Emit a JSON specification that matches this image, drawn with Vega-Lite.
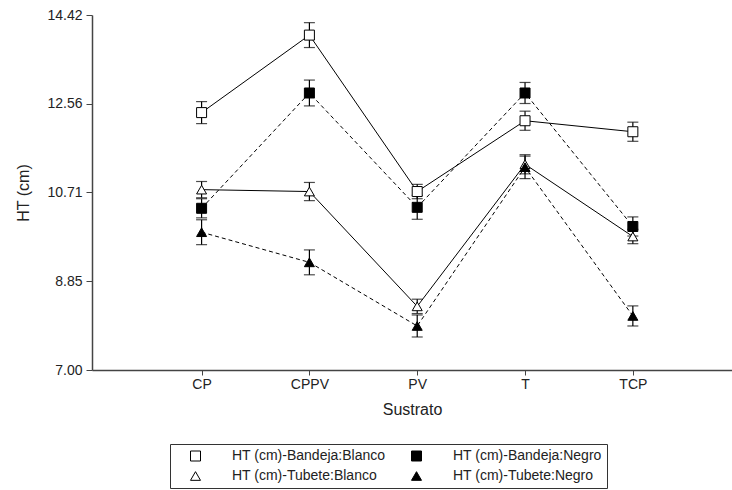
{
  "$schema": "https://vega.github.io/schema/vega-lite/v6.json",
  "width": 640,
  "height": 355,
  "autosize": {"type": "none"},
  "padding": {"left": 92, "top": 15, "right": 0, "bottom": 120},
  "background": "white",
  "data": {
    "values": [
      {"sustrato": "CP", "serie": "HT (cm)-Bandeja:Blanco", "color": "Blanco", "ht": 12.38, "lo": 12.15, "hi": 12.61},
      {"sustrato": "CPPV", "serie": "HT (cm)-Bandeja:Blanco", "color": "Blanco", "ht": 14.0, "lo": 13.74, "hi": 14.26},
      {"sustrato": "PV", "serie": "HT (cm)-Bandeja:Blanco", "color": "Blanco", "ht": 10.73, "lo": 10.58, "hi": 10.88},
      {"sustrato": "T", "serie": "HT (cm)-Bandeja:Blanco", "color": "Blanco", "ht": 12.21, "lo": 12.01, "hi": 12.41},
      {"sustrato": "TCP", "serie": "HT (cm)-Bandeja:Blanco", "color": "Blanco", "ht": 11.98, "lo": 11.78, "hi": 12.18},
      {"sustrato": "CP", "serie": "HT (cm)-Bandeja:Negro", "color": "Negro", "ht": 10.38, "lo": 10.18, "hi": 10.58},
      {"sustrato": "CPPV", "serie": "HT (cm)-Bandeja:Negro", "color": "Negro", "ht": 12.79, "lo": 12.52, "hi": 13.06},
      {"sustrato": "PV", "serie": "HT (cm)-Bandeja:Negro", "color": "Negro", "ht": 10.4, "lo": 10.15, "hi": 10.65},
      {"sustrato": "T", "serie": "HT (cm)-Bandeja:Negro", "color": "Negro", "ht": 12.79, "lo": 12.57, "hi": 13.01},
      {"sustrato": "TCP", "serie": "HT (cm)-Bandeja:Negro", "color": "Negro", "ht": 10.0, "lo": 9.8, "hi": 10.2},
      {"sustrato": "CP", "serie": "HT (cm)-Tubete:Blanco", "color": "Blanco", "ht": 10.77, "lo": 10.6, "hi": 10.94},
      {"sustrato": "CPPV", "serie": "HT (cm)-Tubete:Blanco", "color": "Blanco", "ht": 10.73, "lo": 10.54, "hi": 10.92},
      {"sustrato": "PV", "serie": "HT (cm)-Tubete:Blanco", "color": "Blanco", "ht": 8.33, "lo": 8.18, "hi": 8.48},
      {"sustrato": "T", "serie": "HT (cm)-Tubete:Blanco", "color": "Blanco", "ht": 11.3, "lo": 11.1, "hi": 11.5},
      {"sustrato": "TCP", "serie": "HT (cm)-Tubete:Blanco", "color": "Blanco", "ht": 9.79, "lo": 9.64, "hi": 9.94},
      {"sustrato": "CP", "serie": "HT (cm)-Tubete:Negro", "color": "Negro", "ht": 9.88, "lo": 9.62, "hi": 10.14},
      {"sustrato": "CPPV", "serie": "HT (cm)-Tubete:Negro", "color": "Negro", "ht": 9.25, "lo": 8.99, "hi": 9.51},
      {"sustrato": "PV", "serie": "HT (cm)-Tubete:Negro", "color": "Negro", "ht": 7.92, "lo": 7.69, "hi": 8.15},
      {"sustrato": "T", "serie": "HT (cm)-Tubete:Negro", "color": "Negro", "ht": 11.24, "lo": 11.0, "hi": 11.47},
      {"sustrato": "TCP", "serie": "HT (cm)-Tubete:Negro", "color": "Negro", "ht": 8.13, "lo": 7.92, "hi": 8.34}
    ]
  },
  "encoding": {
    "x": {
      "field": "sustrato",
      "type": "nominal",
      "sort": ["CP", "CPPV", "PV", "T", "TCP"],
      "scale": {"type": "point", "padding": 0.968, "align": 0.525},
      "axis": {"title": "Sustrato", "labelAngle": 0, "titlePadding": 10}
    }
  },
  "layer": [
    {
      "transform": [{"filter": "datum.color === 'Blanco'"}],
      "mark": {"type": "line", "color": "black", "strokeWidth": 1},
      "encoding": {
        "y": {
          "field": "ht",
          "type": "quantitative",
          "scale": {"domain": [7, 14.42], "nice": false, "zero": false},
          "axis": {"title": "HT (cm)", "values": [7, 8.85, 10.71, 12.56, 14.42], "format": ".2f", "titlePadding": 15}
        },
        "detail": {"field": "serie"}
      }
    },
    {
      "transform": [{"filter": "datum.color === 'Negro'"}],
      "mark": {"type": "line", "color": "black", "strokeWidth": 1, "strokeDash": [4, 3]},
      "encoding": {
        "y": {"field": "ht", "type": "quantitative"},
        "detail": {"field": "serie"}
      }
    },
    {
      "mark": {"type": "rule", "color": "black", "strokeWidth": 1.2},
      "encoding": {
        "y": {"field": "lo", "type": "quantitative"},
        "y2": {"field": "hi"}
      }
    },
    {
      "mark": {"type": "tick", "color": "black", "size": 11, "thickness": 1.2},
      "encoding": {"y": {"field": "lo", "type": "quantitative"}}
    },
    {
      "mark": {"type": "tick", "color": "black", "size": 11, "thickness": 1.2},
      "encoding": {"y": {"field": "hi", "type": "quantitative"}}
    },
    {
      "mark": {"type": "point", "filled": true, "size": 100, "stroke": "black", "strokeWidth": 1, "opacity": 1},
      "encoding": {
        "y": {"field": "ht", "type": "quantitative"},
        "shape": {
          "field": "serie",
          "type": "nominal",
          "scale": {
            "domain": ["HT (cm)-Bandeja:Blanco", "HT (cm)-Tubete:Blanco", "HT (cm)-Bandeja:Negro", "HT (cm)-Tubete:Negro"],
            "range": ["square", "triangle-up", "square", "triangle-up"]
          },
          "legend": {
            "title": null,
            "orient": "none",
            "legendX": 78,
            "legendY": 429,
            "columns": 2,
            "columnPadding": 10,
            "rowPadding": 6,
            "padding": 5,
            "strokeColor": "#333",
            "fillColor": "white",
            "symbolSize": 100,
            "symbolOffset": 13.5,
            "labelOffset": 29.5,
            "symbolStrokeWidth": 1,
            "labelFontSize": 14,
            "labelColor": "#222",
            "labelFont": "Liberation Sans",
            "encode": {
              "symbols": {
                "stroke": {"value": "black"},
                "strokeWidth": {"value": 1}
              }
            }
          }
        },
        "fill": {
          "field": "serie",
          "type": "nominal",
          "scale": {
            "domain": ["HT (cm)-Bandeja:Blanco", "HT (cm)-Tubete:Blanco", "HT (cm)-Bandeja:Negro", "HT (cm)-Tubete:Negro"],
            "range": ["white", "white", "black", "black"]
          },
          "legend": {
            "title": null,
            "orient": "none",
            "legendX": 78,
            "legendY": 429,
            "columns": 2,
            "columnPadding": 10,
            "rowPadding": 6,
            "padding": 5,
            "strokeColor": "#333",
            "fillColor": "white",
            "symbolSize": 100,
            "symbolOffset": 13.5,
            "labelOffset": 29.5,
            "symbolStrokeWidth": 1,
            "labelFontSize": 14,
            "labelColor": "#222",
            "labelFont": "Liberation Sans",
            "encode": {
              "symbols": {
                "stroke": {"value": "black"},
                "strokeWidth": {"value": 1}
              }
            }
          }
        }
      }
    }
  ],
  "config": {
    "font": "Liberation Sans",
    "view": {"stroke": null},
    "axis": {
      "grid": false,
      "domainColor": "#444",
      "tickColor": "#444",
      "labelColor": "#222",
      "titleColor": "#222",
      "labelFontSize": 14,
      "titleFontSize": 16,
      "titleFontWeight": "normal",
      "labelFont": "Liberation Sans",
      "titleFont": "Liberation Sans"
    },
    "axisX": {"tickSize": 5, "labelPadding": 2, "domainWidth": 1.5},
    "axisY": {"tickSize": 6, "labelPadding": 4, "domainWidth": 1.5}
  }
}
